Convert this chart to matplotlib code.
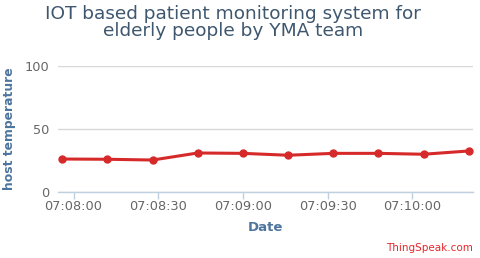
import matplotlib
matplotlib.use("Agg")
import matplotlib.pyplot as plt
import matplotlib.dates as mdates
import pandas as pd

times = ["07:07:56", "07:08:12", "07:08:28", "07:08:44", "07:09:00",
         "07:09:16", "07:09:32", "07:09:48", "07:10:04", "07:10:20"]
temps = [26.0, 25.8, 25.2, 30.8, 30.5, 29.0, 30.5, 30.5, 29.8, 32.4]
yticks = [0, 50, 100]
title = "IOT based patient monitoring system for\nelderly people by YMA team"

t = pd.to_datetime(["2020-01-01 " + s for s in times])

fig = plt.figure(figsize=(4.8, 2.58), dpi=100)
ax = fig.add_axes([58/480, 1 - 191.7/258, 415/480, 125.7/258])

ax.plot(t, temps, color="#d62a2a", lw=2.2, marker="o", ms=5, zorder=3,
        solid_capstyle="round")

pad = pd.Timedelta(seconds=1.5)
ax.set_xlim(t[0] - pad, t[-1] + pad)
ax.set_ylim(0, 100)
ax.set_yticks(yticks)
ax.yaxis.grid(True, color="#d8d8d8", lw=1)
ax.set_axisbelow(True)

ax.xaxis.set_major_locator(mdates.SecondLocator(bysecond=[0, 30]))
ax.xaxis.set_major_formatter(mdates.DateFormatter("%H:%M:%S"))

for s in ["top", "right", "left"]:
    ax.spines[s].set_visible(False)
ax.spines["bottom"].set_color("#c0d0e0")
ax.spines["bottom"].set_linewidth(1)
ax.tick_params(axis="x", colors="#c0d0e0", length=5, width=1, labelcolor="#666666",
               labelsize=9.3, pad=1)
ax.tick_params(axis="y", length=0, labelcolor="#666666", labelsize=9.3, pad=6)

ax.set_xlabel("Date", fontsize=9.5, fontweight="bold", color="#4d759e", labelpad=6)
fig.text(10/480, 1 - 128.5/258, "host temperature", rotation=90, ha="center",
         va="center", fontsize=8.9, fontweight="bold", color="#4d759e")

fig.text(233/480, 1 - 5/258, title, ha="center", va="top", fontsize=13.3,
         color="#3e576f", linespacing=0.95)
fig.text(473/480, 1 - 248/258, "ThingSpeak.com", ha="right", va="center",
         fontsize=7.5, color="#e8262a")

fig.savefig("out.png", dpi=100)
